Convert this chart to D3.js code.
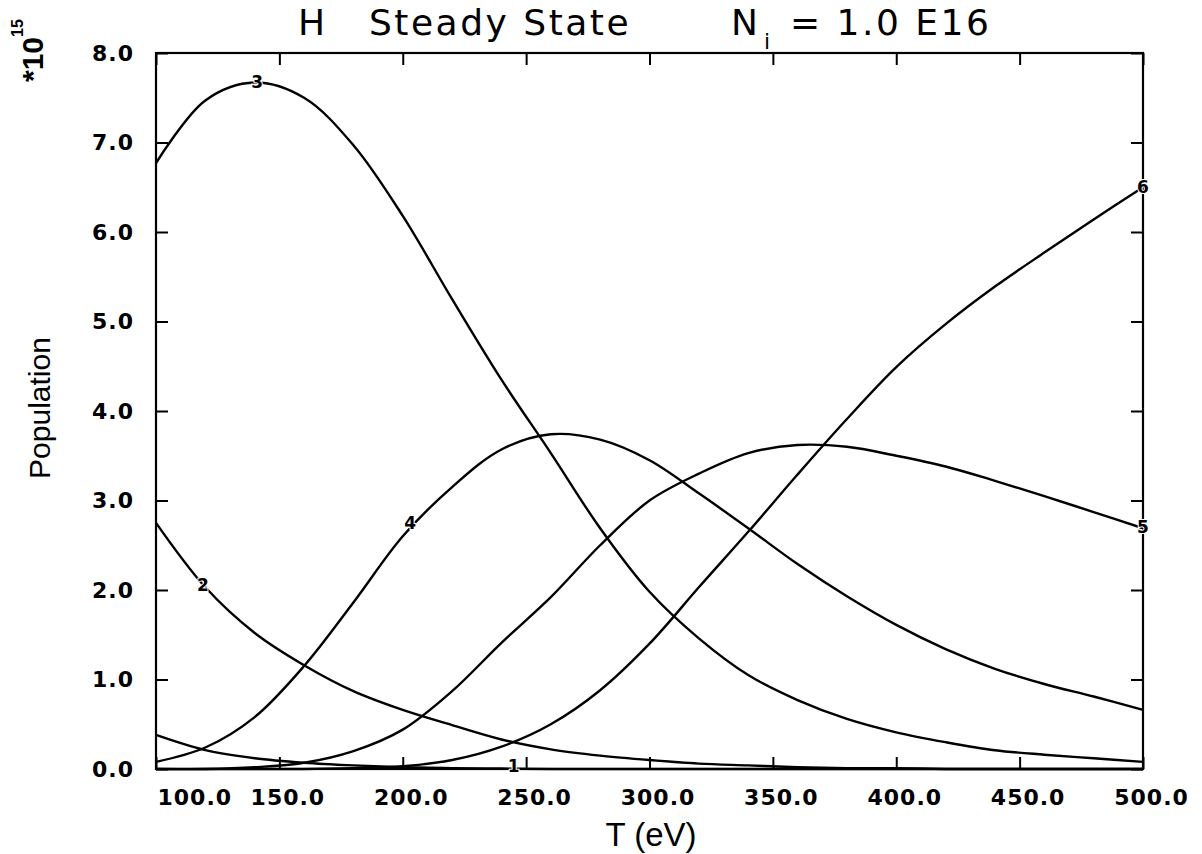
<!DOCTYPE html>
<html>
<head>
<meta charset="utf-8">
<script src="https://cdn.jsdelivr.net/npm/d3@7"></script>
<style>
  body { margin: 0; background: #fff; }
  svg { display: block; }
</style>
</head>
<body>
<div id="chart"></div>
<script>
var width = 1202;
var height = 854;

// temperature grid (eV)
var temps = [100, 120, 140, 160, 180, 200, 220, 240, 260, 280, 300,
             320, 340, 360, 380, 400, 420, 440, 460, 480, 500];

// populations, units of 1e15
var pop1 = [0.38, 0.21, 0.12, 0.07, 0.04, 0.02, 0.01, 0.005, 0, 0, 0,
            0, 0, 0, 0, 0, 0, 0, 0, 0, 0];
var pop2 = [2.75, 2.03, 1.52, 1.16, 0.87, 0.66, 0.49, 0.33, 0.22, 0.15, 0.10,
            0.06, 0.04, 0.02, 0.01, 0.01, 0, 0, 0, 0, 0];
var pop3 = [6.77, 7.47, 7.67, 7.50, 6.97, 6.18, 5.25, 4.35, 3.53, 2.69, 1.98,
            1.46, 1.05, 0.77, 0.56, 0.41, 0.30, 0.21, 0.16, 0.12, 0.08];
var pop4 = [0.08, 0.24, 0.58, 1.15, 1.86, 2.60, 3.15, 3.57, 3.74, 3.68, 3.45,
            3.08, 2.69, 2.29, 1.93, 1.61, 1.34, 1.12, 0.95, 0.81, 0.66];
var pop5 = [0, 0, 0.02, 0.07, 0.20, 0.44, 0.87, 1.41, 1.92, 2.50, 3.00,
            3.30, 3.53, 3.62, 3.60, 3.50, 3.38, 3.22, 3.05, 2.87, 2.69];
var pop6 = [0, 0, 0, 0, 0.01, 0.03, 0.10, 0.25, 0.50, 0.88, 1.40,
            2.03, 2.65, 3.29, 3.91, 4.49, 4.97, 5.39, 5.77, 6.14, 6.50];

var series = [pop1, pop2, pop3, pop4, pop5, pop6];

// where the curve numbers sit
var labelNames = ["1", "2", "3", "4", "5", "6"];
var labelT = [245, 119, 141, 203, 500, 500];
var labelV = [0.03, 2.06, 7.68, 2.75, 2.70, 6.50];

var xTicks = [100, 150, 200, 250, 300, 350, 400, 450, 500];
var yTicks = [0, 1, 2, 3, 4, 5, 6, 7, 8];

var svg = d3.select("#chart")
    .append("svg")
    .attr("width", width)
    .attr("height", height);

var x = d3.scaleLinear().domain([100, 500]).range([156, 1143]);
var y = d3.scaleLinear().domain([0, 8]).range([769, 53]);

var tickFont = "'DejaVu Sans', sans-serif";
var textFont = "'Liberation Sans', Arial, sans-serif";

// frame
svg.append("rect")
    .attr("x", x(100))
    .attr("y", y(8))
    .attr("width", x(500) - x(100))
    .attr("height", y(0) - y(8))
    .attr("fill", "none")
    .attr("stroke", "#000")
    .attr("stroke-width", 2.2);

// bottom axis with labels
var gBottom = svg.append("g")
    .attr("transform", "translate(0," + y(0) + ")")
    .call(d3.axisBottom(x).tickValues(xTicks).tickSize(-12).tickPadding(20)
        .tickFormat(d3.format(".1f")));
gBottom.selectAll("text")
    .attr("dx", 8)
    .filter(function(d){ return d == 100; })
    .attr("text-anchor", "start")
    .attr("dx", 1);

// top axis, ticks only
svg.append("g")
    .attr("transform", "translate(0," + y(8) + ")")
    .call(d3.axisTop(x).tickValues(xTicks).tickSize(-12).tickFormat(""));

// left axis with labels
svg.append("g")
    .attr("transform", "translate(" + x(100) + ",0)")
    .call(d3.axisLeft(y).tickValues(yTicks).tickSize(-12).tickPadding(22)
        .tickFormat(d3.format(".1f")));

// right axis, ticks only
svg.append("g")
    .attr("transform", "translate(" + x(500) + ",0)")
    .call(d3.axisRight(y).tickValues(yTicks).tickSize(-12).tickFormat(""));

svg.selectAll(".domain").remove();
svg.selectAll(".tick line")
    .attr("stroke", "#000")
    .attr("stroke-width", 2);
svg.selectAll(".tick text")
    .attr("fill", "#000")
    .style("font-family", tickFont)
    .style("font-weight", "bold")
    .style("font-size", "22px")
    .style("letter-spacing", "1px");

// curves
var line = d3.line()
    .x(function(d, i){ return x(temps[i]); })
    .y(function(d){ return y(d); })
    .curve(d3.curveCatmullRom.alpha(0.5));

svg.selectAll("path.curve")
    .data(series)
    .enter()
    .append("path")
    .attr("class", "curve")
    .attr("d", line)
    .attr("fill", "none")
    .attr("stroke", "#000")
    .attr("stroke-width", 2.4);

// curve numbers
svg.selectAll("text.clabel")
    .data(labelNames)
    .enter()
    .append("text")
    .attr("class", "clabel")
    .attr("x", function(d, i){ return x(labelT[i]); })
    .attr("y", function(d, i){ return y(labelV[i]); })
    .attr("dy", "0.36em")
    .attr("text-anchor", "middle")
    .style("font-family", tickFont)
    .style("font-weight", "bold")
    .style("font-size", "17px")
    .style("paint-order", "stroke")
    .attr("stroke", "#fff")
    .attr("stroke-width", 2)
    .text(function(d){ return d; });

// title
var title = svg.append("text")
    .attr("y", 35)
    .style("font-family", tickFont)
    .style("font-size", "36px")
    .style("letter-spacing", "2.5px");
title.append("tspan").attr("x", 298).text("H");
title.append("tspan").attr("x", 369).text("Steady State");
title.append("tspan").attr("x", 731).text("N");
title.append("tspan").attr("x", 764).attr("y", 49).style("font-size", "22px").text("i");
title.append("tspan").attr("x", 790).attr("y", 35).text("= 1.0 E16");

// axis titles
svg.append("text")
    .attr("x", 651)
    .attr("y", 846)
    .attr("text-anchor", "middle")
    .style("font-family", textFont)
    .style("font-size", "33px")
    .text("T (eV)");

svg.append("text")
    .attr("transform", "translate(50,408) rotate(-90)")
    .attr("text-anchor", "middle")
    .style("font-family", textFont)
    .style("font-size", "30px")
    .text("Population");

var mult = svg.append("text")
    .attr("transform", "translate(43,82) rotate(-90)")
    .style("font-family", textFont)
    .style("font-weight", "bold")
    .style("font-size", "30px");
mult.append("tspan").text("*10");
mult.append("tspan").attr("dy", -20).style("font-size", "16px").text("15");
</script>
</body>
</html>
